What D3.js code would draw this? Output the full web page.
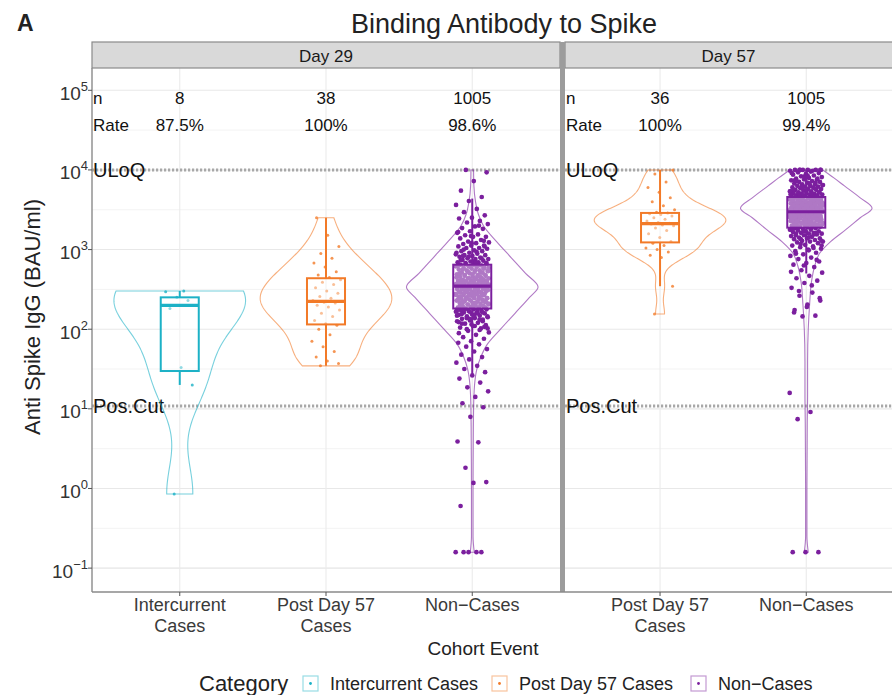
<!DOCTYPE html>
<html><head><meta charset="utf-8">
<script src="https://cdn.jsdelivr.net/npm/d3@7"></script>
<style>
body{margin:0;background:#fff}
text{font-family:"Liberation Sans",Arial,Helvetica,sans-serif}
</style></head>
<body><svg id="c" width="892" height="695"></svg>
<script>
// ---------------- data ----------------
const categories = ["Intercurrent Cases", "Post Day 57 Cases", "Non\u2212Cases"];
const xTickLines = [["Intercurrent", "Cases"], ["Post Day 57", "Cases"], ["Non\u2212Cases"]];
const panels = ["Day 29", "Day 57"];
const panelCategories = [[0, 1, 2], [1, 2]];
const tickExponents = [-1, 0, 1, 2, 3, 4, 5];

// groups: Day29-Intercurrent, Day29-Post, Day29-Non, Day57-Post, Day57-Non
const groupPanel = [0, 0, 0, 1, 1];
const groupCategory = [0, 1, 2, 1, 2];
const nLabels = ["8", "38", "1005", "36", "1005"];
const rateLabels = ["87.5%", "100%", "98.6%", "100%", "99.4%"];

// log10 of Anti Spike IgG (BAU/ml)
const logIntercurrentD29 = [-0.07, 1.30, 1.52, 2.26, 2.36, 2.40, 2.47, 2.48];
const logPostD29 = [1.54, 1.57, 1.60, 1.65, 1.72, 1.78, 1.85, 1.93, 2.00, 2.05, 2.07, 2.11, 2.16, 2.20, 2.24, 2.28, 2.30, 2.33, 2.34, 2.36, 2.39, 2.41, 2.45, 2.48, 2.52, 2.56, 2.59, 2.62, 2.65, 2.68, 2.72, 2.78, 2.83, 2.89, 2.95, 3.04, 3.18, 3.40];
const logNonD29 = [
 4.00,3.97,3.86,3.74,3.66,3.61,
 3.56,3.51,3.47,3.43,3.40,
 3.39,3.36,3.34,3.32,3.29,3.27,3.26,3.23,3.21,
 3.19,3.18,3.16,3.16,3.14,3.12,3.10,3.09,3.08,3.07,3.05,3.05,3.04,3.02,3.02,3.01,
 2.99,2.98,2.98,2.96,2.96,2.95,2.93,2.93,2.92,2.91,2.90,2.89,2.88,2.88,2.87,2.86,2.85,2.84,2.84,2.83,2.82,2.81,2.81,2.80,
 2.79,2.79,2.78,2.77,2.77,2.76,2.75,2.74,2.74,2.73,2.72,2.71,2.71,2.70,2.69,2.68,2.68,2.67,2.66,2.66,2.65,2.64,2.64,2.63,2.62,2.62,2.61,2.61,2.60,2.60,
 2.59,2.59,2.58,2.58,2.57,2.57,2.56,2.56,2.55,2.55,2.54,2.54,2.53,2.53,2.52,2.51,2.51,2.50,2.50,2.49,2.48,2.48,2.47,2.46,2.46,2.45,2.44,2.44,2.43,2.43,2.42,2.41,2.41,2.40,
 2.39,2.39,2.38,2.37,2.37,2.36,2.35,2.35,2.34,2.33,2.33,2.32,2.31,2.31,2.30,2.29,2.29,2.28,2.27,2.27,2.26,2.25,2.25,2.24,2.23,2.23,2.22,2.21,2.21,2.20,
 2.19,2.18,2.17,2.16,2.15,2.14,2.13,2.12,2.11,2.10,2.08,2.07,2.05,2.04,2.02,2.01,
 1.98,1.96,1.93,1.90,1.88,1.85,1.83,1.81,
 1.78,1.75,1.72,1.68,1.65,1.62,
 1.58,1.54,1.50,1.46,1.42,
 1.38,1.33,1.27,1.22,
 1.15,1.07,1.02,
 0.90,0.59,0.58,0.26,0.08,0.07,-0.22,-0.80,-0.80,-0.80,-0.80,-0.80,
 2.03,2.06,2.09,2.12,2.14,2.16,2.18,2.19,2.21,2.22,2.23,2.24,2.26,2.27,2.28,2.29,2.30,2.31,2.32,2.33,
 2.34,2.35,2.36,2.37,2.38,2.38,2.39,2.40,2.41,2.42,2.42,2.43,2.44,2.45,2.45,2.46,2.47,2.47,2.48,2.49,
 2.49,2.50,2.51,2.51,2.52,2.52,2.53,2.53,2.54,2.54,2.55,2.55,2.56,2.56,2.57,2.58,2.58,2.59,2.60,2.60,
 2.61,2.62,2.62,2.63,2.64,2.65,2.66,2.67,2.68,2.69,2.70,2.71,2.72,2.73,2.74,2.75,2.76,2.78,2.79,2.80,
 2.82,2.83,2.85,2.87,2.89,2.91,2.94,2.97,3.00,3.04,3.08,1.95,1.99,2.00,2.01,2.04,2.07,2.10,2.13,2.17,
 2.20,2.25,2.35,2.44,2.57,2.65,2.72,2.77,2.84,2.92,3.11,3.17,3.22,3.30];
const logPostD57 = [2.19, 2.54, 2.90, 2.93, 2.97, 3.00, 3.02, 3.05, 3.08, 3.10, 3.15, 3.20, 3.24, 3.27, 3.30, 3.31, 3.32, 3.33, 3.34, 3.36, 3.38, 3.40, 3.42, 3.44, 3.45, 3.46, 3.47, 3.50, 3.55, 3.60, 3.65, 3.72, 3.78, 3.85, 3.95, 4.00];
const logNonD57 = [
 4.00,4.00,4.00,4.00,4.00,4.00,
 3.99,3.98,3.97,3.96,3.95,3.94,3.93,3.92,3.91,3.90,
 3.89,3.88,3.88,3.87,3.86,3.85,3.85,3.84,3.83,3.82,3.82,3.81,3.80,3.80,
 3.79,3.79,3.78,3.78,3.77,3.76,3.76,3.75,3.75,3.74,3.73,3.73,3.72,3.72,3.71,3.71,3.70,3.70,
 3.69,3.69,3.68,3.68,3.67,3.67,3.66,3.66,3.65,3.65,3.65,3.64,3.64,3.63,3.63,3.62,3.62,3.61,3.61,3.61,3.60,3.60,
 3.59,3.59,3.59,3.58,3.58,3.57,3.57,3.57,3.56,3.56,3.55,3.55,3.55,3.54,3.54,3.53,3.53,3.53,3.52,3.52,3.51,3.51,3.51,3.50,3.50,3.50,
 3.49,3.49,3.49,3.48,3.48,3.47,3.47,3.47,3.46,3.46,3.45,3.45,3.45,3.44,3.44,3.43,3.43,3.43,3.42,3.42,3.41,3.41,3.41,3.40,3.40,3.40,
 3.39,3.39,3.38,3.38,3.37,3.37,3.36,3.36,3.35,3.35,3.35,3.34,3.34,3.33,3.33,3.32,3.32,3.31,3.31,3.31,3.30,3.30,
 3.29,3.29,3.28,3.27,3.27,3.26,3.25,3.25,3.24,3.23,3.23,3.22,3.21,3.21,3.20,3.20,3.20,
 3.19,3.18,3.17,3.16,3.15,3.14,3.14,3.13,3.12,3.11,3.10,3.10,
 3.09,3.08,3.06,3.05,3.04,3.03,3.01,3.00,
 2.98,2.96,2.94,2.92,2.90,2.88,2.85,2.83,2.81,
 2.78,2.74,2.71,2.67,2.64,2.61,
 2.58,2.52,2.46,2.42,
 2.36,2.31,2.24,
 2.17,2.16,
 1.20,0.96,0.87,-0.80,-0.80,-0.80,
 3.02,3.07,3.11,3.15,3.18,3.21,3.23,3.25,3.27,3.28,3.29,3.30,3.31,3.32,3.33,3.34,3.35,3.36,3.37,3.38,
 3.38,3.39,3.40,3.41,3.42,3.42,3.43,3.44,3.45,3.45,3.46,3.47,3.47,3.48,3.49,3.49,3.50,3.51,3.51,3.52,
 3.52,3.53,3.53,3.54,3.55,3.55,3.56,3.57,3.57,3.58,3.59,3.59,3.60,3.61,3.62,3.62,3.63,3.64,3.65,3.66,
 3.67,3.68,3.69,3.70,3.71,3.72,3.74,3.75,3.77,3.79,3.81,3.83,3.86,3.89,3.92,3.96,3.99,4.00,4.00,3.93,
 3.87,3.84,3.78,3.73,3.63,3.54,3.44,3.36,3.26,3.19,3.13,3.05,2.99,2.95,2.87,2.80,2.72,2.55,2.48,2.39,
 2.28,2.21];

// violin outlines of the two large groups (log10 level, relative half-width)
const violinNonD29Level = [-0.80, -0.60, 0.00, 0.50, 1.00, 1.30, 1.50, 1.65, 1.80, 2.00, 2.20, 2.40, 2.53, 2.70, 2.90, 3.10, 3.30, 3.45, 3.60, 3.80, 4.00];
const violinNonD29Width = [0.03, 0.012, 0.012, 0.015, 0.02, 0.035, 0.07, 0.13, 0.22, 0.43, 0.65, 0.87, 1.00, 0.81, 0.59, 0.37, 0.17, 0.09, 0.05, 0.025, 0.02];
const violinNonD57Level = [-0.80, -0.60, 0.00, 0.80, 1.20, 1.60, 2.00, 2.30, 2.60, 2.80, 2.95, 3.10, 3.25, 3.40, 3.52, 3.65, 3.80, 3.90, 4.00];
const violinNonD57Width = [0.03, 0.01, 0.01, 0.015, 0.02, 0.02, 0.03, 0.05, 0.08, 0.13, 0.20, 0.37, 0.60, 0.82, 1.00, 0.82, 0.58, 0.42, 0.25];

// box-plot statistics (log10)
const boxQ1 = [1.475, 2.06, 2.26, 3.09, 3.275];
const boxMedian = [2.30, 2.35, 2.54, 3.325, 3.475];
const boxQ3 = [2.40, 2.64, 2.81, 3.46, 3.66];
const whiskerLo = [1.30, 1.54, 1.44, 2.54, 2.70];
const whiskerHi = [2.48, 3.40, 3.64, 4.00, 4.00];

const refLineLabels = ["ULoQ", "Pos.Cut"];
const refLineValues = [10000, 10.84];
const nRowValue = Math.pow(10, 4.9);
const rateRowValue = Math.pow(10, 4.56);

// ---------------- styles ----------------
const colors = ["#1cb1c6", "#f27a28", "#7b1f9e"];
const groupValues = [logIntercurrentD29, logPostD29, logNonD29, logPostD57, logNonD57];
const groupProfiles = [null, null, [violinNonD29Level, violinNonD29Width], null, [violinNonD57Level, violinNonD57Width]];

// ---------------- layout ----------------
const svg = d3.select("#c");
const plotTop = 68, plotBottom = 592, stripTop = 42;
const y = d3.scaleLog().domain([Math.pow(10, -1.3), Math.pow(10, 5.28)]).range([plotBottom, plotTop]);
const xScales = [
  d3.scaleLinear().domain([0.4, 3.6]).range([92, 560]),
  d3.scaleLinear().domain([0.35, 2.6]).range([565, 894])
];
const panelX = [[92, 560], [565, 894]];
const unit = xScales[0](1) - xScales[0](0);

svg.append("text").attr("x", 17).attr("y", 31).attr("font-size", 23).attr("font-weight", "bold").attr("fill", "#222").text("A");
svg.append("text").attr("x", 504).attr("y", 33).attr("text-anchor", "middle").attr("font-size", 27).attr("fill", "#222").text("Binding Antibody to Spike");

panels.forEach((p, pi) => {
  const [x0, x1] = panelX[pi];
  const xs = xScales[pi];
  const g = svg.append("g");
  g.append("rect").attr("x", x0).attr("y", plotTop).attr("width", x1 - x0).attr("height", plotBottom - plotTop).attr("fill", "#fff");
  tickExponents.concat([-1.5, 5]).forEach(e => {
    const v = Math.pow(10, e + 0.5);
    if (y(v) > plotTop && y(v) < plotBottom)
      g.append("line").attr("x1", x0).attr("x2", x1).attr("y1", y(v)).attr("y2", y(v)).attr("stroke", "#f3f3f3").attr("stroke-width", 1);
  });
  tickExponents.forEach(e => {
    g.append("line").attr("x1", x0).attr("x2", x1).attr("y1", y(Math.pow(10, e))).attr("y2", y(Math.pow(10, e))).attr("stroke", "#e8e8e8").attr("stroke-width", 1.1);
  });
  panelCategories[pi].forEach((c, k) => {
    g.append("line").attr("x1", xs(k + 1)).attr("x2", xs(k + 1)).attr("y1", plotTop).attr("y2", plotBottom).attr("stroke", "#ebebeb").attr("stroke-width", 1.1);
  });
  refLineValues.forEach((v, i) => {
    g.append("line").attr("x1", x0).attr("x2", x1).attr("y1", y(v)).attr("y2", y(v))
      .attr("stroke", "#a8a8a8").attr("stroke-width", 3).attr("stroke-dasharray", "2.2,1.8");
  });
  g.append("rect").attr("x", x0).attr("y", stripTop).attr("width", x1 - x0).attr("height", plotTop - stripTop)
    .attr("fill", "#d9d9d9").attr("stroke", "#8a8a8a").attr("stroke-width", 1.2);
  g.append("text").attr("x", (x0 + Math.min(x1, 892)) / 2).attr("y", 62).attr("text-anchor", "middle")
    .attr("font-size", 17).attr("fill", "#1a1a1a").text(p);
  g.append("text").attr("x", x0 + 1).attr("y", y(nRowValue)).attr("dy", "0.35em").attr("font-size", 17).attr("fill", "#111").text("n");
  g.append("text").attr("x", x0 + 1).attr("y", y(rateRowValue)).attr("dy", "0.35em").attr("font-size", 17).attr("fill", "#111").text("Rate");
});

panels.forEach((p, pi) => {
  refLineValues.forEach((v, i) => {
    svg.append("text").attr("x", panelX[pi][0] + 1).attr("y", y(v)).attr("dy", "0.36em").attr("font-size", 20)
      .attr("fill", "#111").text(refLineLabels[i]);
  });
});

// gaussian KDE (bw.nrd0), trimmed to data range
function kde(vals) {
  const n = vals.length;
  const sorted = vals.slice().sort(d3.ascending);
  const sd = d3.deviation(sorted);
  const iqr = d3.quantileSorted(sorted, 0.75) - d3.quantileSorted(sorted, 0.25);
  let lo = Math.min(sd, iqr / 1.34);
  if (!(lo > 0)) lo = sd || 1;
  const bw = 0.9 * lo * Math.pow(n, -0.2);
  const mn = sorted[0], mx = sorted[n - 1];
  const pts = [];
  const m = 200;
  for (let i = 0; i <= m; i++) {
    const t = mn + (mx - mn) * i / m;
    let s = 0;
    for (const v of sorted) { const z = (t - v) / bw; s += Math.exp(-0.5 * z * z); }
    pts.push({ v: t, d: s });
  }
  const maxD = d3.max(pts, p => p.d);
  pts.forEach(p => p.w = p.d / maxD);
  return pts;
}

const marks = svg.append("g");
groupValues.forEach((vals, gi) => {
  const pi = groupPanel[gi];
  const xs = xScales[pi];
  const pos = panelCategories[pi].indexOf(groupCategory[gi]) + 1;
  const cx = xs(pos);
  const col = colors[groupCategory[gi]];
  const prof = groupProfiles[gi];
  const dens = prof ? prof[0].map((v, i) => ({ v: v, w: prof[1][i] })) : kde(vals);
  const half = 0.45 * unit;
  const area = d3.area()
    .x0(d => cx - d.w * half).x1(d => cx + d.w * half)
    .y(d => y(Math.pow(10, d.v)))
    .curve(prof ? d3.curveMonotoneY : d3.curveLinear);
  marks.append("path").attr("d", area(dens)).attr("fill", "none").attr("stroke", col)
    .attr("stroke-opacity", 0.6).attr("stroke-width", 1.1);
});
groupValues.forEach((vals, gi) => {
  const pi = groupPanel[gi];
  const xs = xScales[pi];
  const pos = panelCategories[pi].indexOf(groupCategory[gi]) + 1;
  const col = colors[groupCategory[gi]];
  const big = vals.length > 100;
  marks.append("g").selectAll("circle").data(vals).join("circle")
    .attr("cx", (d, i) => xs(pos + (((i * 0.6180339887 + 0.31) % 1) - 0.5) * (big ? 0.23 : 0.2)))
    .attr("cy", d => y(Math.pow(10, d)))
    .attr("r", big ? 2.35 : 1.5)
    .attr("fill", col).attr("fill-opacity", big ? 1 : 0.8);
});
groupValues.forEach((vals, gi) => {
  const pi = groupPanel[gi];
  const xs = xScales[pi];
  const pos = panelCategories[pi].indexOf(groupCategory[gi]) + 1;
  const cx = xs(pos);
  const col = colors[groupCategory[gi]];
  const bw = 0.13 * unit;
  const Y = v => y(Math.pow(10, v));
  marks.append("line").attr("x1", cx).attr("x2", cx).attr("y1", Y(boxQ3[gi])).attr("y2", Y(whiskerHi[gi])).attr("stroke", col).attr("stroke-width", 2);
  marks.append("line").attr("x1", cx).attr("x2", cx).attr("y1", Y(boxQ1[gi])).attr("y2", Y(whiskerLo[gi])).attr("stroke", col).attr("stroke-width", 2);
  marks.append("rect").attr("x", cx - bw).attr("width", 2 * bw).attr("y", Y(boxQ3[gi])).attr("height", Y(boxQ1[gi]) - Y(boxQ3[gi]))
    .attr("fill", "#fff").attr("fill-opacity", 0.4).attr("stroke", col).attr("stroke-width", 2);
  marks.append("line").attr("x1", cx - bw).attr("x2", cx + bw).attr("y1", Y(boxMedian[gi])).attr("y2", Y(boxMedian[gi])).attr("stroke", col).attr("stroke-width", 3.2);
  svg.append("text").attr("x", cx).attr("y", y(nRowValue)).attr("dy", "0.35em").attr("text-anchor", "middle").attr("font-size", 17).attr("fill", "#111").text(nLabels[gi]);
  svg.append("text").attr("x", cx).attr("y", y(rateRowValue)).attr("dy", "0.35em").attr("text-anchor", "middle").attr("font-size", 17).attr("fill", "#111").text(rateLabels[gi]);
});

svg.append("line").attr("x1", 92).attr("x2", 92).attr("y1", plotTop).attr("y2", plotBottom).attr("stroke", "#8a8a8a").attr("stroke-width", 1.4);
svg.append("rect").attr("x", 560).attr("y", stripTop).attr("width", 5).attr("height", plotBottom - stripTop).attr("fill", "#9c9c9c");
svg.append("line").attr("x1", 92).attr("x2", 892).attr("y1", plotBottom).attr("y2", plotBottom).attr("stroke", "#8a8a8a").attr("stroke-width", 1.4);

tickExponents.forEach(e => {
  const ty = y(Math.pow(10, e));
  svg.append("line").attr("x1", 88).attr("x2", 92).attr("y1", ty).attr("y2", ty).attr("stroke", "#555").attr("stroke-width", 1);
  const t = svg.append("text").attr("x", 88).attr("y", ty + 9.5).attr("text-anchor", "end").attr("font-size", 19).attr("fill", "#333");
  t.append("tspan").text("10");
  t.append("tspan").attr("dy", -9).attr("font-size", 13).text(e < 0 ? "\u2212" + Math.abs(e) : String(e));
});
panels.forEach((p, pi) => {
  const xs = xScales[pi];
  panelCategories[pi].forEach((c, k) => {
    const cx = xs(k + 1);
    svg.append("line").attr("x1", cx).attr("x2", cx).attr("y1", plotBottom).attr("y2", plotBottom + 4).attr("stroke", "#555");
    xTickLines[c].forEach((ln, li) => {
      svg.append("text").attr("x", cx).attr("y", 611 + li * 21).attr("text-anchor", "middle").attr("font-size", 18).attr("fill", "#3a3a3a").text(ln);
    });
  });
});
svg.append("text").attr("x", 483).attr("y", 655).attr("text-anchor", "middle").attr("font-size", 19).attr("fill", "#222").text("Cohort Event");
svg.append("text").attr("transform", "translate(40,317) rotate(-90)").attr("text-anchor", "middle").attr("font-size", 22).attr("fill", "#222").text("Anti Spike IgG (BAU/ml)");

svg.append("text").attr("x", 199).attr("y", 691).attr("font-size", 22).attr("fill", "#222").text("Category");
const keyX = [303, 492, 691];
categories.forEach((c, i) => {
  const kx = keyX[i];
  svg.append("rect").attr("x", kx).attr("y", 676).attr("width", 15).attr("height", 15).attr("fill", "#fff")
    .attr("stroke", colors[i]).attr("stroke-opacity", 0.45).attr("stroke-width", 1.2);
  svg.append("circle").attr("cx", kx + 7.5).attr("cy", 683.5).attr("r", 1.4).attr("fill", colors[i]);
  svg.append("text").attr("x", kx + 27).attr("y", 690).attr("font-size", 18).attr("fill", "#222").text(c);
});
</script>
</body></html>
